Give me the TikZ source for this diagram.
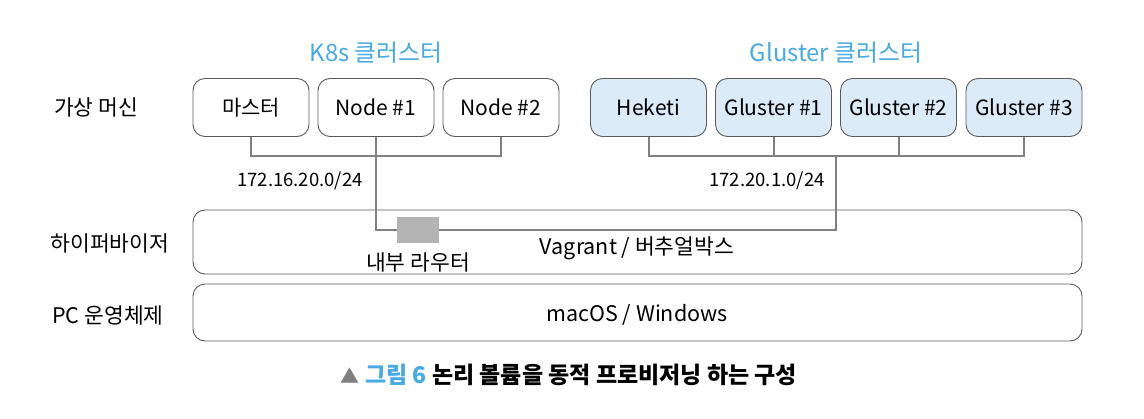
\documentclass[tikz,border=0pt]{standalone}
\usepackage{fontspec}
\setmainfont{Noto Sans CJK KR}
\usetikzlibrary{positioning}
\definecolor{titleblue}{RGB}{70,170,228}
\definecolor{glfill}{RGB}{220,235,248}
\definecolor{wire}{RGB}{128,128,128}
\definecolor{boxline}{RGB}{90,90,90}
\definecolor{router}{RGB}{180,180,180}
\tikzset{
  vm/.style={draw=boxline, line width=0.9pt, rounded corners=12pt, minimum width=116pt, minimum height=58pt, inner sep=0pt, font=\fontsize{21pt}{23pt}\selectfont},
  glvm/.style={vm, fill=glfill},
  layer/.style={draw=boxline, line width=0.9pt, rounded corners=12pt, inner sep=0pt},
  wireline/.style={draw=wire, line width=2pt},
  lbl/.style={font=\fontsize{21.5pt}{23pt}\selectfont, inner sep=0pt},
  netl/.style={font=\fontsize{18.5pt}{20pt}\selectfont, inner sep=0pt},
  ttl/.style={font=\fontsize{23.8pt}{26pt}\selectfont, text=titleblue, inner sep=0pt},
}
\begin{document}
\begin{tikzpicture}[x=1pt,y=-1pt]
\useasboundingbox (0,0) rectangle (1144,418);
% layer boxes
\node[layer, minimum width=889pt, minimum height=64pt] (hyp) at (637.5,242) {};
\node[layer, minimum width=889pt, minimum height=57pt] (pc) at (637.5,312.5) {};
% titles
\node[ttl] (k8st) at (376,53) {K8s 클러스터};
\node[ttl] (glt) at (836,53) {Gluster 클러스터};
% side labels
\node[lbl] (vml) at (96,107) {가상 머신};
\node[lbl] (hvl) at (110,243) {하이퍼바이저};
\node[lbl] (pcl) at (108,315) {PC 운영체제};
% VMs
\node[vm] (m) at (251,107.5) {마스터};
\node[vm] (n1) at (376,107.5) {Node \#1};
\node[vm] (n2) at (501,107.5) {Node \#2};
\node[glvm] (hk) at (648.5,107.5) {Heketi};
\node[glvm] (g1) at (773.5,107.5) {Gluster \#1};
\node[glvm] (g2) at (898.5,107.5) {Gluster \#2};
\node[glvm] (g3) at (1024,107.5) {Gluster \#3};
% router
\node[fill=router, minimum width=42pt, minimum height=26pt, inner sep=0pt] (rt) at (418,230) {};
\coordinate (kbus) at (376,156);
\coordinate (gbus) at (836,156);
% wires
\draw[wireline] (m.south) |- (kbus) -| (n2.south);
\draw[wireline] (n1.south) |- (rt.west);
\draw[wireline] (hk.south) |- (gbus) -| (g3.south);
\draw[wireline] (g1.south) -- (g1.south |- gbus);
\draw[wireline] (g2.south) -- (g2.south |- gbus);
\draw[wireline] (rt.east) -| (gbus);
% net labels
\node[netl] (knet) at (300,181) {172.16.20.0/24};
\node[netl] (gnet) at (767,181) {172.20.1.0/24};
% inner labels
\node[lbl] (rtl) at (418,262) {내부 라우터};
\node[lbl] (vg) at (637,248) {Vagrant / 버추얼박스};
\node[lbl] (os) at (637,315) {macOS / Windows};
% caption
\node[inner sep=0pt, font=\bfseries\fontsize{23pt}{25pt}\selectfont] (cap) at (569,375) {{\color{wire}\fontsize{19pt}{21pt}\selectfont▲} {\color{titleblue}그림 6} 논리 볼륨을 동적 프로비저닝 하는 구성};
\end{tikzpicture}
\end{document}
